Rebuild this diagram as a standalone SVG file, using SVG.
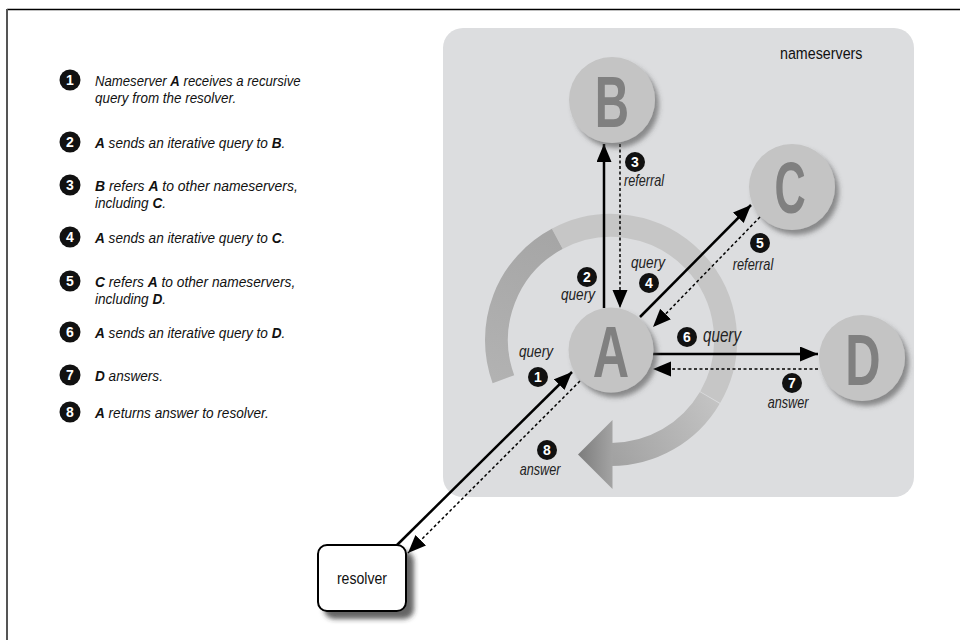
<svg xmlns="http://www.w3.org/2000/svg" width="960" height="640" viewBox="0 0 960 640">
<defs>
<style>
.f{font-family:"Liberation Sans",Arial,sans-serif}
.lg{font-family:"Liberation Sans",Arial,sans-serif;font-style:italic;font-size:15px;fill:#111}
.b{font-weight:bold}
.bd circle{fill:#111}
.bd text{font-family:"Liberation Sans",Arial,sans-serif;font-weight:bold;font-size:14px;fill:#fff;text-anchor:middle}
.lbl{font-family:"Liberation Sans",Arial,sans-serif;font-style:italic;font-size:16px;fill:#222;text-anchor:middle}
.lbl.big{font-size:20px}
.node circle{fill:#c4c4c4;filter:url(#sh)}
.node text{font-family:"Liberation Sans",Arial,sans-serif;font-weight:bold;font-size:72px;fill:#808080;text-anchor:middle}
.solid{stroke:#000;stroke-width:2.5;fill:none;marker-end:url(#ah)}
.dash{stroke:#000;stroke-width:1.5;stroke-dasharray:3 2.5;fill:none;marker-end:url(#ah)}
.ring{fill:none;stroke-width:23}
</style>
<marker id="ah" markerUnits="userSpaceOnUse" markerWidth="20" markerHeight="16" refX="18" refY="7.5" orient="auto">
<path d="M0,0 L18,7.5 L0,15 z" fill="#000"/>
</marker>
<filter id="sh" x="-30%" y="-30%" width="170%" height="170%">
<feDropShadow dx="4" dy="5" stdDeviation="2.5" flood-color="#444" flood-opacity="0.55"/>
</filter>
<filter id="bsh" x="-20%" y="-20%" width="150%" height="150%">
<feDropShadow dx="7" dy="7" stdDeviation="2.5" flood-color="#333" flood-opacity="0.75"/>
</filter>
<linearGradient id="gc" gradientUnits="userSpaceOnUse" x1="715" y1="395" x2="611" y2="455">
<stop offset="0" stop-color="#c4c4c4"/>
<stop offset="1" stop-color="#a2a2a2"/>
</linearGradient>
<linearGradient id="ga" gradientUnits="userSpaceOnUse" x1="578" y1="454" x2="613" y2="454">
<stop offset="0" stop-color="#7c7c7c"/>
<stop offset="1" stop-color="#a4a4a4"/>
</linearGradient>
<linearGradient id="gs" gradientUnits="userSpaceOnUse" x1="500" y1="380" x2="557" y2="240">
<stop offset="0" stop-color="#b2b2b2"/>
<stop offset="1" stop-color="#a6a6a6"/>
</linearGradient>
</defs>

<rect width="960" height="640" fill="#fff"/>
<g id="frame" fill="none">
<line x1="7" y1="9.5" x2="960" y2="9.5" stroke="#000" stroke-width="1.5"/>
<line x1="7" y1="9" x2="7" y2="640" stroke="#555" stroke-width="2"/>
</g>

<g id="legend">
<g class="bd" transform="translate(70,80)"><circle r="10.5"/><text y="5">1</text></g>
<text class="lg" transform="translate(95,86) scale(0.878,1)">Nameserver <tspan class="b">A</tspan> receives a recursive</text>
<text class="lg" transform="translate(95,103) scale(0.895,1)">query from the resolver.</text>

<g class="bd" transform="translate(70,142)"><circle r="10.5"/><text y="5">2</text></g>
<text class="lg" transform="translate(95,148) scale(0.907,1)"><tspan class="b">A</tspan> sends an iterative query to <tspan class="b">B</tspan>.</text>

<g class="bd" transform="translate(70,185)"><circle r="10.5"/><text y="5">3</text></g>
<text class="lg" transform="translate(95,190.5) scale(0.929,1)"><tspan class="b">B</tspan> refers <tspan class="b">A</tspan> to other nameservers,</text>
<text class="lg" transform="translate(95,207.5) scale(0.907,1)">including <tspan class="b">C</tspan>.</text>

<g class="bd" transform="translate(70,237)"><circle r="10.5"/><text y="5">4</text></g>
<text class="lg" transform="translate(95,243) scale(0.907,1)"><tspan class="b">A</tspan> sends an iterative query to <tspan class="b">C</tspan>.</text>

<g class="bd" transform="translate(70,281)"><circle r="10.5"/><text y="5">5</text></g>
<text class="lg" transform="translate(95,286.5) scale(0.918,1)"><tspan class="b">C</tspan> refers <tspan class="b">A</tspan> to other nameservers,</text>
<text class="lg" transform="translate(95,303.5) scale(0.907,1)">including <tspan class="b">D</tspan>.</text>

<g class="bd" transform="translate(70,332)"><circle r="10.5"/><text y="5">6</text></g>
<text class="lg" transform="translate(95,338) scale(0.907,1)"><tspan class="b">A</tspan> sends an iterative query to <tspan class="b">D</tspan>.</text>

<g class="bd" transform="translate(70,375)"><circle r="10.5"/><text y="5">7</text></g>
<text class="lg" transform="translate(95,381) scale(0.907,1)"><tspan class="b">D</tspan>  answers.</text>

<g class="bd" transform="translate(70,412)"><circle r="10.5"/><text y="5">8</text></g>
<text class="lg" transform="translate(95,418) scale(0.907,1)"><tspan class="b">A</tspan> returns answer to resolver.</text>
</g>

<g id="nameservers">
<rect x="443" y="28" width="471" height="469" rx="20" fill="#dcdddf"/>
<text class="f" transform="translate(780,59) scale(0.84,1)" font-size="17" fill="#111">nameservers</text>
</g>

<g id="cycle">
<path class="ring" stroke="url(#gs)" d="M503.4 379.2 A114.5 114.5 0 0 1 557.6 238.7"/>
<path class="ring" stroke="#c6c6c6" d="M557.2 238.9 A114.5 114.5 0 0 1 710.2 397.3"/>
<path class="ring" stroke="url(#gc)" d="M709.8 397.9 A114.5 114.5 0 0 1 611 454.5"/>
<polygon points="612.5,420 612.5,489 578,454.5" fill="url(#ga)"/>
</g>

<g id="resolver">
<rect x="318" y="545" width="88" height="66" rx="9" fill="#fff" stroke="#000" stroke-width="2" filter="url(#bsh)"/>
<text class="f" transform="translate(362,584) scale(0.83,1)" font-size="17" fill="#111" text-anchor="middle">resolver</text>
</g>

<g id="connectors">
<path class="solid" d="M397 545 L572 372"/>
<path class="dash" d="M580 381 L408 553"/>
<path class="solid" d="M604 308 L604 144"/>
<path class="dash" d="M620 144 L620 308"/>
<path class="solid" d="M640 317 L751 205"/>
<path class="dash" d="M760 217 L653 327"/>
<path class="solid" d="M653 354 L818 354"/>
<path class="dash" d="M818 369 L653 369"/>
</g>

<g id="node-B" class="node"><circle cx="612" cy="100" r="43"/><text transform="translate(612,127) scale(0.66,1)">B</text></g>
<g id="node-C" class="node"><circle cx="792" cy="187" r="43"/><text transform="translate(790,213) scale(0.6,1)">C</text></g>
<g id="node-A" class="node"><circle cx="611" cy="350" r="42.5"/><text transform="translate(611,377) scale(0.7,1)">A</text></g>
<g id="node-D" class="node"><circle cx="862" cy="358" r="43"/><text transform="translate(863,385) scale(0.68,1)">D</text></g>

<g id="labels">
<g class="bd" transform="translate(538,377)"><circle r="10"/><text y="5">1</text></g>
<text class="lbl" transform="translate(536,357) scale(0.85,1)">query</text>
<g class="bd" transform="translate(587,277)"><circle r="10"/><text y="5">2</text></g>
<text class="lbl" transform="translate(578,300) scale(0.85,1)">query</text>
<g class="bd" transform="translate(635,162)"><circle r="10"/><text y="5">3</text></g>
<text class="lbl" transform="translate(644,186) scale(0.79,1)">referral</text>
<g class="bd" transform="translate(649,283)"><circle r="10"/><text y="5">4</text></g>
<text class="lbl" transform="translate(648,268) scale(0.85,1)">query</text>
<g class="bd" transform="translate(760,243)"><circle r="10"/><text y="5">5</text></g>
<text class="lbl" transform="translate(753,270) scale(0.8,1)">referral</text>
<g class="bd" transform="translate(687,337)"><circle r="10"/><text y="5">6</text></g>
<text class="lbl big" transform="translate(722,342) scale(0.76,1)">query</text>
<g class="bd" transform="translate(792,383)"><circle r="10"/><text y="5">7</text></g>
<text class="lbl" transform="translate(788,408) scale(0.79,1)">answer</text>
<g class="bd" transform="translate(547,450)"><circle r="10"/><text y="5">8</text></g>
<text class="lbl" transform="translate(540,474.5) scale(0.79,1)">answer</text>
</g>
</svg>
